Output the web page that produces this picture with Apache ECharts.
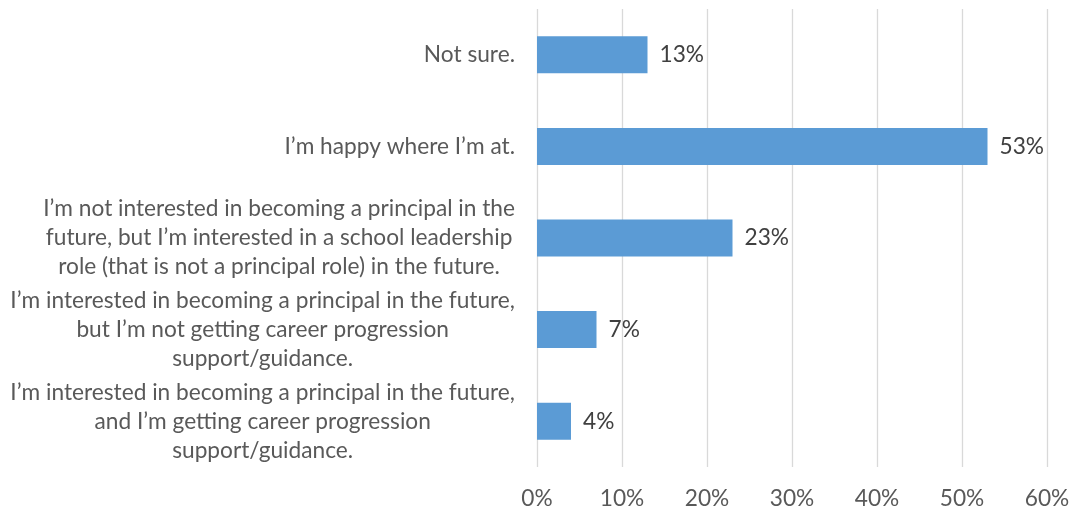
<!DOCTYPE html>
<html>
<head>
<meta charset="utf-8">
<script src="https://cdn.jsdelivr.net/npm/echarts@6/dist/echarts.min.js"></script>
<style>
  html, body { margin: 0; padding: 0; background: #fff; }
  #chart { width: 1073px; height: 514px; }
</style>
</head>
<body>
<div id="chart"></div>
<script>
// Survey responses on career intentions (share of respondents)
const categories = [
  'Not sure.',
  'I\u2019m happy where I\u2019m at.',
  'I\u2019m not interested in becoming a principal in the\nfuture, but I\u2019m interested in a school leadership\nrole (that is not a principal role) in the future.',
  'I\u2019m interested in becoming a principal in the future,\nbut I\u2019m not getting career progression\nsupport/guidance.',
  'I\u2019m interested in becoming a principal in the future,\nand I\u2019m getting career progression\nsupport/guidance.'
];
const values = [13, 53, 23, 7, 4];
const xTicks = [0, 10, 20, 30, 40, 50, 60];

const FONT = 'Lato';
const TEXT = '#595959';

// Pick a font size so the widest category line spans about 505px
const ctx = document.createElement('canvas').getContext('2d');
ctx.font = '100px ' + FONT;
const widest = Math.max(...categories.flatMap(c => c.split('\n')).map(l => ctx.measureText(l).width));
const fs = Math.round(505 / widest * 100 * 10) / 10;

const chart = echarts.init(document.getElementById('chart'));
chart.setOption({
  animation: false,
  textStyle: { fontFamily: FONT },
  grid: { left: 537, right: 26, top: 9, bottom: 47 },
  xAxis: {
    type: 'value',
    min: xTicks[0],
    max: xTicks[xTicks.length - 1],
    interval: 10,
    axisLine: { show: false },
    axisTick: { show: false },
    splitLine: { lineStyle: { color: '#d9d9d9', width: 1.3 } },
    axisLabel: {
      margin: 20,
      color: TEXT,
      fontSize: fs,
      fontFamily: FONT,
      formatter: v => v + '%'
    }
  },
  yAxis: {
    type: 'category',
    inverse: true,
    data: categories,
    axisLine: { show: false },
    axisTick: { show: false },
    axisLabel: {
      margin: 22,
      align: 'right',
      color: TEXT,
      fontFamily: FONT,
      fontSize: fs,
      formatter: v => v.split('\n').map(l => '{c|' + l + '}').join('\n'),
      rich: {
        c: { align: 'center', fontSize: fs, fontFamily: FONT, color: TEXT, lineHeight: 29 }
      }
    }
  },
  series: [{
    type: 'bar',
    data: values,
    barWidth: 37,
    itemStyle: { color: '#5b9bd5' },
    label: {
      show: true,
      position: 'right',
      distance: 12,
      color: '#404040',
      fontSize: fs,
      fontFamily: FONT,
      formatter: p => p.value + '%'
    }
  }]
});
</script>
</body>
</html>
